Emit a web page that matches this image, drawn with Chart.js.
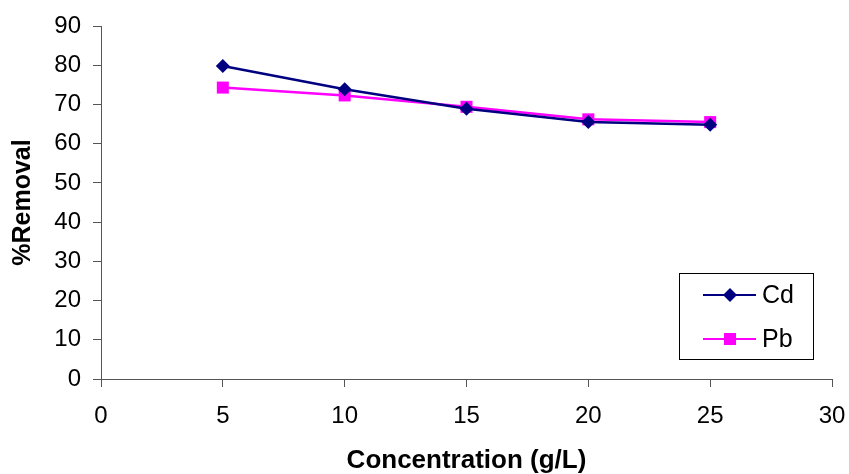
<!DOCTYPE html>
<html lang="en">
<head>
    <meta charset="UTF-8">
    <title>%Removal vs Concentration</title>
    <script src="https://cdn.jsdelivr.net/npm/chart.js"></script>
    <style>
        html, body { margin: 0; padding: 0; background: #fff; }
        #wrap { width: 849px; height: 474px; }
    </style>
</head>
<body>
    <div id="wrap"><canvas id="chart" width="849" height="474"></canvas></div>
    <script>
        // values
        const concentration = [5, 10, 15, 20, 25];
        const cdRemoval = [79.8, 73.9, 68.9, 65.5, 64.8];
        const pbRemoval = [74.3, 72.3, 69.4, 66.2, 65.5];
        const seriesNames = ['Cd', 'Pb'];

        const font = 'Liberation Sans, Arial, sans-serif';

        // legend box drawn inside the plot, like the original
        const boxLegend = {
            id: 'boxLegend',
            afterDraw(chart) {
                const ctx = chart.ctx;
                const area = chart.chartArea;
                const x0 = area.right - 153, y0 = area.top + 247;
                const w = 134, h = 86;
                ctx.save();
                ctx.fillStyle = '#fff';
                ctx.fillRect(x0, y0, w, h);
                ctx.strokeStyle = '#000';
                ctx.lineWidth = 1;
                ctx.strokeRect(x0 + 0.5, y0 + 0.5, w, h);
                chart.data.datasets.forEach((ds, i) => {
                    const cy = y0 + 22 + i * 44;
                    ctx.strokeStyle = ds.borderColor;
                    ctx.lineWidth = 2;
                    ctx.beginPath();
                    ctx.moveTo(x0 + 24, cy);
                    ctx.lineTo(x0 + 77, cy);
                    ctx.stroke();
                    ctx.fillStyle = ds.pointBackgroundColor;
                    Chart.helpers.drawPoint(ctx, {
                        pointStyle: ds.pointStyle,
                        radius: ds.pointRadius,
                        borderWidth: 0
                    }, x0 + 51, cy);
                    ctx.fillStyle = '#000';
                    ctx.font = '25px ' + font;
                    ctx.textBaseline = 'middle';
                    ctx.fillText(ds.label, x0 + 83, cy + 1);
                });
                ctx.restore();
            }
        };

        new Chart(document.getElementById('chart'), {
            type: 'line',
            data: {
                datasets: [{
                    label: seriesNames[0],
                    data: concentration.map((c, i) => ({ x: c, y: cdRemoval[i] })),
                    borderColor: '#000080',
                    backgroundColor: '#000080',
                    pointBackgroundColor: '#000080',
                    pointBorderWidth: 0,
                    borderWidth: 2.5,
                    pointStyle: 'rectRot',
                    pointRadius: 7,
                    tension: 0
                }, {
                    label: seriesNames[1],
                    data: concentration.map((c, i) => ({ x: c, y: pbRemoval[i] })),
                    borderColor: '#FF00FF',
                    backgroundColor: '#FF00FF',
                    pointBackgroundColor: '#FF00FF',
                    pointBorderWidth: 0,
                    borderWidth: 2.5,
                    pointStyle: 'rect',
                    pointRadius: 8.5,
                    tension: 0
                }]
            },
            options: {
                responsive: false,
                animation: false,
                devicePixelRatio: 1,
                layout: { padding: { top: 26, right: 17, left: 0, bottom: 0 } },
                plugins: {
                    legend: { display: false },
                    tooltip: { enabled: false }
                },
                scales: {
                    x: {
                        type: 'linear',
                        min: 0,
                        max: 30,
                        ticks: {
                            stepSize: 5,
                            color: '#000',
                            padding: 15,
                            font: { family: font, size: 24 }
                        },
                        grid: {
                            drawOnChartArea: false,
                            drawTicks: true,
                            tickLength: 8,
                            color: '#555'
                        },
                        border: { color: '#555', width: 1 },
                        title: {
                            display: true,
                            text: 'Concentration (g/L)',
                            color: '#000',
                            font: { family: font, size: 26, weight: 'bold', lineHeight: 1.0 },
                            padding: { top: 0, bottom: 0 }
                        },
                        afterFit(scale) {
                            scale.height = 95;
                            scale.paddingLeft = 0;
                            scale.paddingRight = 0;
                        }
                    },
                    y: {
                        min: 0,
                        max: 90,
                        ticks: {
                            stepSize: 10,
                            color: '#000',
                            padding: 12,
                            font: { family: font, size: 24 }
                        },
                        grid: {
                            drawOnChartArea: false,
                            drawTicks: true,
                            tickLength: 8,
                            color: '#555'
                        },
                        border: { color: '#555', width: 1 },
                        title: {
                            display: true,
                            text: '%Removal',
                            color: '#000',
                            font: { family: font, size: 25, weight: 'bold' },
                            padding: { top: 8, bottom: 0 }
                        },
                        afterFit(scale) {
                            scale.width = 101;
                            scale.paddingTop = 0;
                            scale.paddingBottom = 0;
                        }
                    }
                }
            },
            plugins: [boxLegend]
        });
    </script>
</body>
</html>
